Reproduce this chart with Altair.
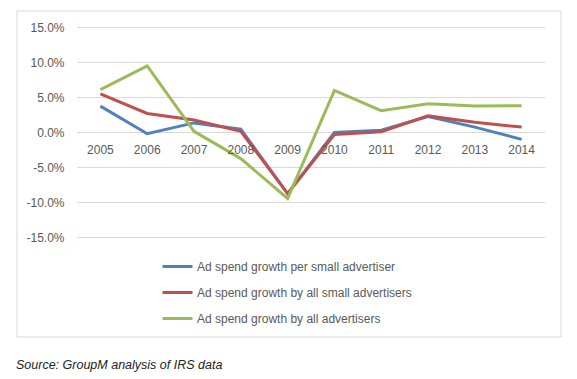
import altair as alt
import pandas as pd

years = ["2005", "2006", "2007", "2008", "2009", "2010", "2011", "2012", "2013", "2014"]
series_names = [
    "Ad spend growth per small advertiser",
    "Ad spend growth by all small advertisers",
    "Ad spend growth by all advertisers",
]
per_small = [3.7, -0.25, 1.3, 0.4, -8.8, -0.05, 0.25, 2.2, 0.7, -1.05]
all_small = [5.45, 2.65, 1.7, 0.1, -8.8, -0.35, 0.05, 2.3, 1.4, 0.7]
all_adv = [6.05, 9.45, 0.1, -3.8, -9.5, 5.95, 3.05, 4.05, 3.7, 3.75]
colors = ["#4F81BD", "#C0504D", "#9BBB59"]
y_ticks = [-15, -10, -5, 0, 5, 10, 15]
source_text = "Source: GroupM analysis of IRS data"

rows = []
for name, vals in zip(series_names, [per_small, all_small, all_adv]):
    for yr, v in zip(years, vals):
        rows.append({"year": yr, "value": v, "series": name})
df = pd.DataFrame(rows)
df_years = pd.DataFrame({"year": years, "zero": [0] * len(years)})

FONT = "Liberation Sans"
GRAY = "#595959"

x_scale = alt.Scale(type="point", domain=years, padding=0.5)
y_scale = alt.Scale(domain=[-15, 15], nice=False, zero=False)
y_axis = alt.Axis(
    values=y_ticks,
    labelExpr="(datum.value < 0 ? '-' : '') + format(abs(datum.value), '.1f') + '%'",
    grid=True,
    gridColor="#d9d9d9",
    gridWidth=1,
    domain=False,
    ticks=False,
    labelPadding=13,
    labelOverlap=False,
    title=None,
    labelColor=GRAY,
    labelFontSize=12,
    labelFont=FONT,
)

border = alt.Chart(alt.Data(values=[{"a": 1}])).mark_rect(
    filled=False, stroke="#d9d9d9", strokeWidth=1
).encode(
    x=alt.value(-60), x2=alt.value(484), y=alt.value(-16), y2=alt.value(310)
)

lines = alt.Chart(df).mark_line(strokeWidth=3).encode(
    x=alt.X("year:N", scale=x_scale, axis=None),
    y=alt.Y("value:Q", scale=y_scale, axis=y_axis),
    color=alt.Color(
        "series:N",
        scale=alt.Scale(domain=series_names, range=colors),
        legend=alt.Legend(
            title=None,
            orient="none",
            legendX=84,
            legendY=223,
            direction="vertical",
            symbolType="stroke",
            symbolStrokeWidth=3,
            symbolSize=900,
            labelFont=FONT,
            labelFontSize=12,
            labelColor=GRAY,
            labelOffset=3,
            labelLimit=400,
            rowPadding=3,
        ),
    ),
    detail="series:N",
)

xlabels = alt.Chart(df_years).mark_text(
    baseline="middle", align="center", dy=18, fontSize=12, font=FONT, color=GRAY
).encode(
    x=alt.X("year:N", scale=x_scale, axis=None),
    y=alt.Y("zero:Q", scale=y_scale, axis=y_axis),
    text="year:N",
)

source = alt.Chart(alt.Data(values=[{"a": 1}])).mark_text(
    align="left", baseline="middle", fontStyle="italic", fontSize=12.5, font=FONT, color="#222222"
).encode(x=alt.value(-61), y=alt.value(338), text=alt.value(source_text))

chart = alt.layer(border, lines, xlabels, source).properties(
    width=468,
    height=210,
    autosize=alt.AutoSizeParams(type="none"),
    padding={"left": 69, "top": 19, "right": 20, "bottom": 142},
    background="white",
).configure_view(stroke=None)

chart.save("out.html", embed_options={"renderer": "svg", "actions": False})
